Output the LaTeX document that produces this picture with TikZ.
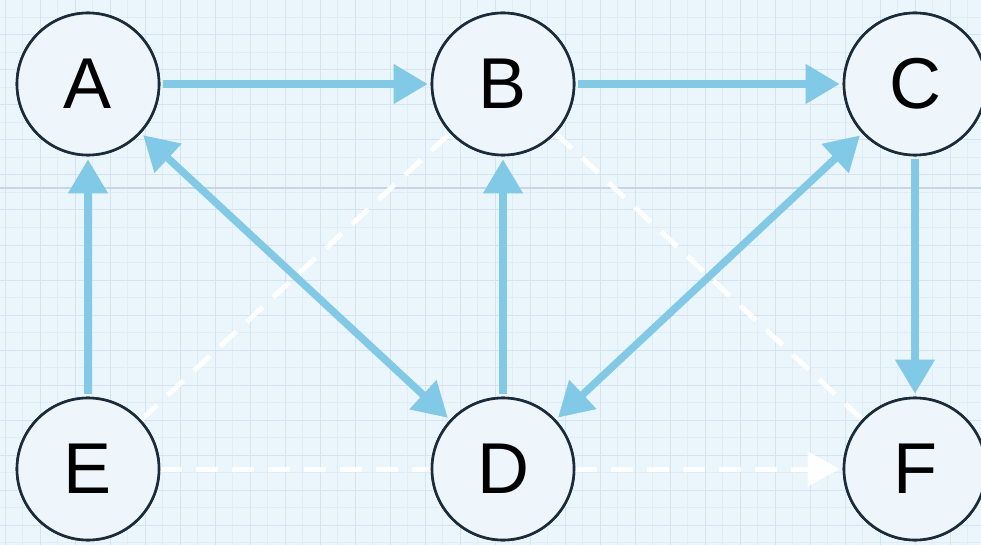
\documentclass[tikz,border=0pt]{standalone}
\usepackage{fontspec}
\setmainfont{Liberation Sans}
\usetikzlibrary{arrows.meta}
\definecolor{bgc}{RGB}{235,245,252}
\definecolor{gridc}{RGB}{212,227,239}
\definecolor{gridfine}{RGB}{225,237,246}
\definecolor{gridmaj}{RGB}{200,214,226}
\definecolor{edgec}{RGB}{128,202,232}
\definecolor{nodefill}{RGB}{238,245,251}
\definecolor{nodeline}{RGB}{28,43,58}
\tikzset{
  vertex/.style={circle, draw=nodeline, line width=2.6pt, fill=nodefill,
    minimum size=142pt, inner sep=0pt, font=\fontsize{72}{72}\selectfont},
  solidedge/.style={draw=edgec, line width=7.5pt, shorten >=3pt, shorten <=3pt,
    -{Triangle[length=34pt,width=38pt]}},
  bothedge/.style={solidedge, {Triangle[length=34pt,width=38pt]}-{Triangle[length=34pt,width=38pt]}},
  plainedge/.style={draw=edgec, line width=7.5pt},
  whitedash/.style={draw=white, line width=5pt, dash pattern=on 22pt off 14pt, opacity=0.9},
}
\begin{document}
\begin{tikzpicture}[x=1pt,y=-1pt]
\fill[bgc] (0,0) rectangle (981,545);
\useasboundingbox (0,0) rectangle (981,545);
% fine grid
\foreach \x in {22.5,57.5,...,981} \draw[gridfine, line width=0.6pt] (\x,0) -- (\x,545);
\foreach \y in {17.5,52.5,...,545} \draw[gridfine, line width=0.6pt] (0,\y) -- (981,\y);
% grid
\foreach \x in {5,40,...,981} \draw[gridc, line width=1pt] (\x,0) -- (\x,545);
\foreach \y in {0,35,...,545} \draw[gridc, line width=1pt] (0,\y) -- (981,\y);
\draw[gridmaj, line width=1.6pt] (0,188) -- (981,188);
% nodes
\node[vertex] (A) at (88,84) {A};
\node[vertex] (B) at (503,84) {B};
\node[vertex] (C) at (915,84) {C};
\node[vertex] (E) at (88,469) {E};
\node[vertex] (D) at (503,469) {D};
\node[vertex] (F) at (915,469) {F};
% white dashed connectors
\draw[whitedash] (E) -- (B);
\draw[whitedash] (B) -- (F);
\draw[whitedash] (E) -- (D);
\draw[whitedash, -{Triangle[length=32pt,width=34pt]}, shorten >=3pt] (D) -- (F);
% solid connectors
\draw[solidedge] (A) -- (B);
\draw[solidedge] (B) -- (C);
\draw[solidedge] (C) -- (F);
\draw[solidedge] (E) -- (A);
\draw[solidedge] (D) -- (B);
\draw[bothedge] (A) -- (D);
\draw[bothedge] (C) -- (D);
% redraw nodes on top
\node[vertex] at (A) {A};
\node[vertex] at (B) {B};
\node[vertex] at (C) {C};
\node[vertex] at (E) {E};
\node[vertex] at (D) {D};
\node[vertex] at (F) {F};
\end{tikzpicture}
\end{document}
